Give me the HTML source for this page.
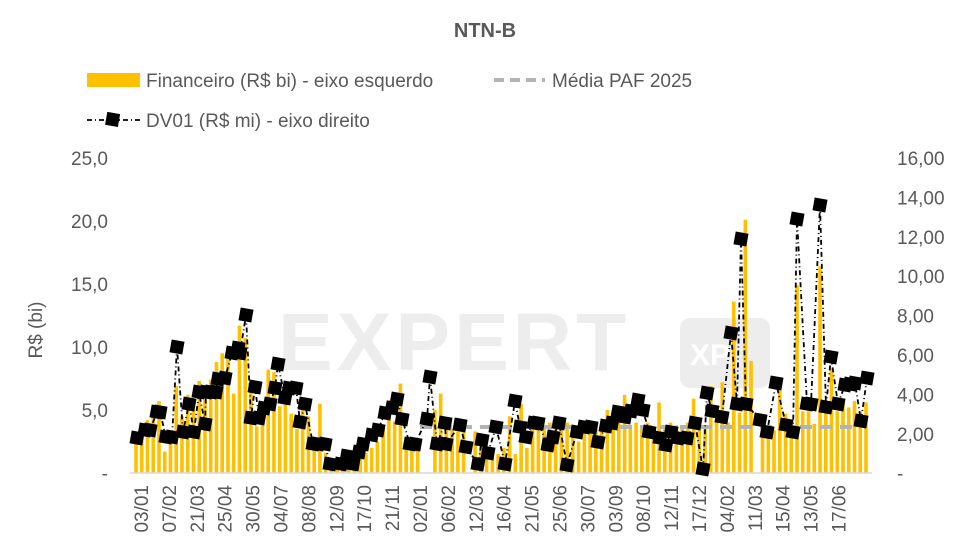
<!DOCTYPE html>
<html><head><meta charset="utf-8"><style>
body{margin:0;background:#fff;}
svg{display:block;font-family:"Liberation Sans",sans-serif;}
</style></head><body>
<svg id="s" width="971" height="559" xmlns="http://www.w3.org/2000/svg">
<text x="485" y="37" text-anchor="middle" font-size="20" font-weight="bold" fill="#595959">NTN-B</text>
<rect x="87" y="73" width="53" height="14" fill="#FFC000"/>
<text x="146" y="87" font-size="19" fill="#595959">Financeiro (R$ bi) - eixo esquerdo</text>
<line x1="494" y1="80" x2="545" y2="80" stroke="#b3b3b3" stroke-width="4" stroke-dasharray="10,6"/>
<text x="552" y="87" font-size="19" fill="#595959">Média PAF 2025</text>
<line x1="87" y1="120" x2="140" y2="120" stroke="#000" stroke-width="1.8" stroke-dasharray="5,3,1,3"/>
<rect x="106" y="113" width="13" height="13" fill="#000" transform="rotate(10 113 120)"/>
<text x="146" y="127" font-size="19" fill="#595959">DV01 (R$ mi) - eixo direito</text>
<text x="278" y="370" font-size="82" font-weight="bold" fill="#ededed" letter-spacing="4">EXPERT</text>
<rect x="680" y="318" width="90" height="70" rx="10" fill="#ededed"/>
<text x="690" y="365" font-size="30" font-weight="bold" fill="#fff">XP</text>
<g id="bars" fill="#FFC000"></g>
<line x1="420" y1="427" x2="860" y2="427" stroke="#b3b3b3" stroke-width="4" stroke-dasharray="12,8"/>
<line x1="130" y1="473" x2="872" y2="473" stroke="#d9d9d9" stroke-width="1.5"/>
<g id="dv"></g>
<text x="36" y="330" font-size="19" fill="#595959" text-anchor="middle" transform="rotate(-90 36 330)" dy="6">R$ (bi)</text>
<g id="ax" font-size="19" fill="#595959"></g>
</svg>
<script>
var ns="http://www.w3.org/2000/svg";
function el(p,t,a,txt){var e=document.createElementNS(ns,t);for(var k in a)e.setAttribute(k,a[k]);if(txt!=null)e.textContent=txt;p.appendChild(e);return e;}
var ax=document.getElementById('ax');
var L=["25,0","20,0","15,0","10,0","5,0","-"],R=["16,00","14,00","12,00","10,00","8,00","6,00","4,00","2,00","-"];
for(var i=0;i<6;i++)el(ax,'text',{x:108,y:158+63*i+7,'text-anchor':'end'},L[i]);
for(var i=0;i<9;i++)el(ax,'text',{x:897,y:158+39.4*i+7},R[i]);
var X=["03/01","07/02","21/03","25/04","30/05","04/07","08/08","12/09","17/10","21/11","02/01","06/02","12/03","16/04","21/05","25/06","30/07","03/09","08/10","12/11","17/12","04/02","11/03","15/04","13/05","17/06"];
for(var i=0;i<X.length;i++){var x=141+27.9*i+7;el(ax,'text',{x:x,y:485,'text-anchor':'end',transform:'rotate(-90 '+x+' 485)'},X[i]);}
var v=[2.4,3.2,4.2,4.7,5.7,1.7,3.2,6.9,4.5,6.2,5,7.3,5.8,7.4,8.8,9.5,10,6.3,11.7,10.7,
6.8,3.7,3.9,8.2,8.0,5.3,6.3,4.7,3.5,5.5,4.5,2.8,5.5,1.6,1.1,0.9,0.6,1.4,0.8,2.4,
1.6,2,2.5,3.7,5.8,4.1,7.1,2.6,2.6,2.6,0,0,5,6.3,3.5,3.5,3.3,3.3,0,3.3,
2.6,2,1.5,1.5,2,4.5,1.5,5.5,2,3.7,3.5,3.5,4,4.5,3.5,4,3,2.5,3.5,4,
4,3.5,5,3.6,5,6.2,3.8,4,3.5,4,3.5,5.6,3.8,4,3.8,3.5,4,5.9,4,3.6,
6.9,4.2,7.2,4,13.6,4.8,20.1,8.9,0,4,3.5,3.4,6.9,4.7,3.1,14.9,4.9,4.9,3.9,16.4,4.9,8.3,4.9,5.5,5.2,5.7,4.9,5.6];
var b=document.getElementById('bars'),n=v.length,st=(866-136)/(n-1);
for(var i=0;i<n;i++){var h=v[i]*12.6;el(b,'rect',{x:136+st*i-1.8,y:473-h,width:3.6,height:h});}
var p=[[137,438],[145,430],[150,430],[157,412],[160,412],[166,437],[172,437],[177,347],[183,432],[189,404],[194,432],[199,392],[205,424],[206,392],[211,392],[216,392],[218,379],[225,378],[232,353],[238,348],[240,353],[246,315],[251,418],[255,387],[259,418],[264,408],[270,404],[275,388],[278,364],[285,398],[289,388],[296,388],[300,422],[305,404],[313,444],[318,444],[325,444],[330,464],[341,464],[347,456],[353,464],[359,452],[363,444],[372,435],[378,430],[385,413],[392,408],[397,399],[402,419],[410,444],[415,444],[427,419],[430,377],[437,444],[445,423],[446,444],[460,425],[466,447],[478,464],[482,440],[488,453],[496,427],[505,464],[515,401],[520,427],[526,437],[534,423],[538,423],[548,445],[553,437],[559,423],[567,465],[577,432],[584,427],[591,427],[598,442],[606,426],[612,423],[618,412],[625,417],[631,411],[638,400],[643,410],[649,432],[660,438],[666,445],[671,432],[678,438],[687,438],[695,423],[703,469],[707,393],[712,411],[722,417],[731,333],[737,404],[741,239],[746,404],[760,420],[767,432],[776,383],[786,425],[793,432],[797,219],[807,404],[811,404],[820,205],[826,407],[831,357],[838,404],[845,385],[850,384],[855,383],[861,421],[867,378]];
var d=document.getElementById('dv');
el(d,'polyline',{points:p.map(function(a){return a.join(',')}).join(' '),fill:'none',stroke:'#000','stroke-width':1.8,'stroke-dasharray':'5,3,1,3'});
p.forEach(function(a){el(d,'rect',{x:a[0]-6.5,y:a[1]-6.5,width:13,height:13,fill:'#000',transform:'rotate(10 '+a[0]+' '+a[1]+')'});});
</script>
</body></html>
